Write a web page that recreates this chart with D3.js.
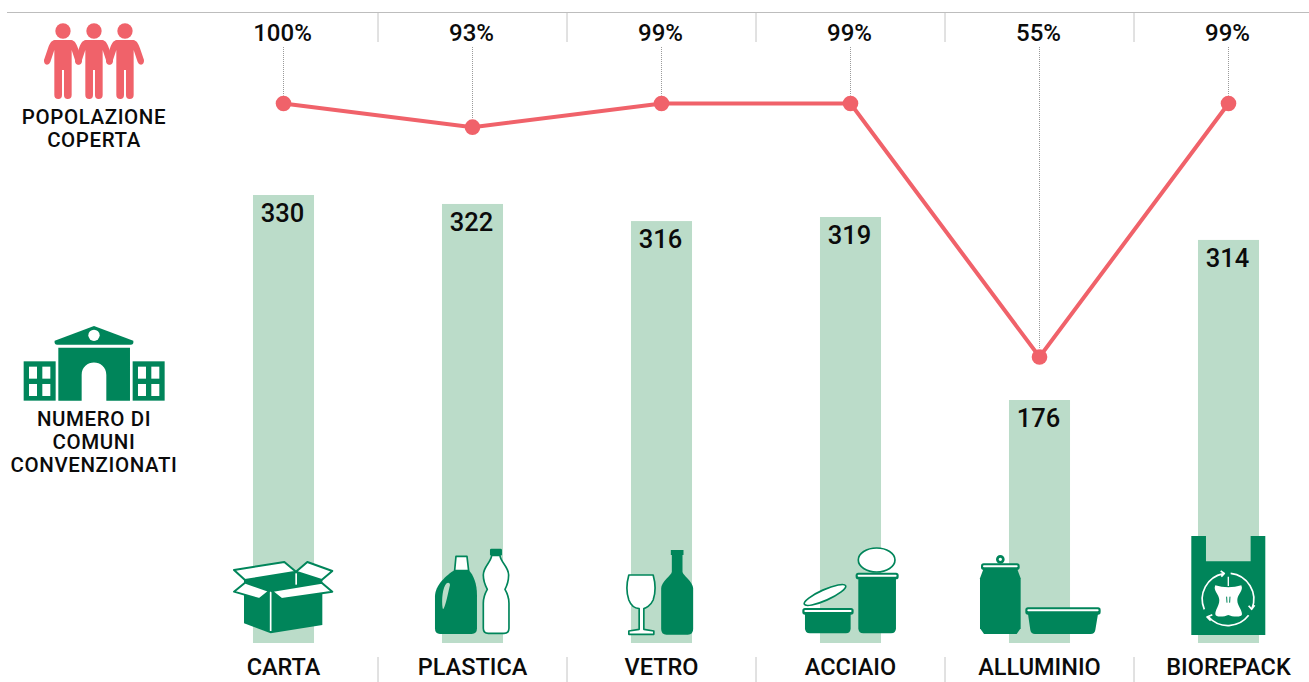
<!DOCTYPE html>
<html>
<head>
<meta charset="utf-8">
<title>Raccolta differenziata</title>
<script src="https://cdn.jsdelivr.net/npm/d3@7"></script>
<style>
  body { margin: 0; background: #fff; }
  svg { display: block; }
  text { font-family: Roboto, sans-serif; font-weight: 500; fill: #0b0b0b; }
</style>
</head>
<body>
<svg id="chart"></svg>
<script>
// The data
var categories = ['CARTA', 'PLASTICA', 'VETRO', 'ACCIAIO', 'ALLUMINIO', 'BIOREPACK'];
var comuni = [330, 322, 316, 319, 176, 314];
var copertura = [100, 93, 99, 99, 55, 99];

// The printed marks don't sit exactly where their labels say,
// so these are the levels (bar heights / line points)
var barLevels = [330, 323.4, 310.8, 313.8, 179, 296.9];
var lineLevels = [100, 95.8, 100, 100, 55, 100];

// General vars
var width = 1309,
    height = 682,
    green = '#00855a',
    lightGreen = '#bbdcc9',
    red = '#f0626a',
    rule = '#c4c4c4';

var svg = d3.select('svg#chart')
  .attr('width', width)
  .attr('height', height)
  .attr('viewBox', '0,0,' + width + ',' + height);

// Scales
var x = d3.scaleBand()
  .domain(categories)
  .range([189, 1323])
  .paddingInner(0.677)
  .paddingOuter(0.3385);

var y = d3.scaleLinear().domain([0, 330]).range([643, 195]);
var yLine = d3.scaleLinear().domain([55, 100]).range([357, 103.5]);

function cx(d) { return x(d) + x.bandwidth() / 2; }

// Top rule and the little separators
svg.append('line')
  .attr('x1', 7).attr('x2', width)
  .attr('y1', 12.5).attr('y2', 12.5)
  .attr('stroke', '#bdbdbd')
  .attr('stroke-width', 1);

var seps = svg.append('g').selectAll('g')
  .data(categories.slice(1))
  .enter().append('g')
    .attr('transform', function(d) { return 'translate(' + (x(d) - x.step() * x.paddingInner() / 2) + ',0)'; });
seps.append('line').attr('y1', 13).attr('y2', 42).attr('stroke', rule);
seps.append('line').attr('y1', 657).attr('y2', 682).attr('stroke', rule);

// Bars
svg.append('g').selectAll('rect')
  .data(categories)
  .enter().append('rect')
    .attr('x', function(d) { return x(d); })
    .attr('width', x.bandwidth())
    .attr('y', function(d, i) { return y(barLevels[i]); })
    .attr('height', function(d, i) { return y(0) - y(barLevels[i]); })
    .attr('fill', lightGreen);

// Bar value labels
svg.append('g').selectAll('text')
  .data(categories)
  .enter().append('text')
    .attr('x', function(d) { return cx(d) - 1; })
    .attr('y', function(d, i) { return y(barLevels[i]) + 27; })
    .attr('text-anchor', 'middle')
    .style('font-size', '25.5px')
    .text(function(d, i) { return comuni[i]; });

// Dotted leaders from the percentages down to the line
svg.append('g').selectAll('line')
  .data(categories)
  .enter().append('line')
    .attr('x1', cx).attr('x2', cx)
    .attr('y1', 47)
    .attr('y2', function(d, i) { return yLine(lineLevels[i]) - 8; })
    .attr('stroke', '#9a9a9a')
    .attr('stroke-dasharray', '1,1');

// Percent labels
svg.append('g').selectAll('text')
  .data(categories)
  .enter().append('text')
    .attr('x', function(d) { return cx(d) - 1; })
    .attr('y', 41)
    .attr('text-anchor', 'middle')
    .style('font-size', '24px')
    .text(function(d, i) { return copertura[i] + '%'; });

// The red line
var line = d3.line()
  .x(function(d) { return cx(d); })
  .y(function(d) { return yLine(lineLevels[categories.indexOf(d)]); });

svg.append('path')
  .datum(categories)
  .attr('d', line)
  .attr('fill', 'none')
  .attr('stroke', red)
  .attr('stroke-width', 4);

svg.append('g').selectAll('circle')
  .data(categories)
  .enter().append('circle')
    .attr('cx', cx)
    .attr('cy', function(d, i) { return yLine(lineLevels[i]); })
    .attr('r', 7.8)
    .attr('fill', red);

// Category labels
var axis = svg.append('g')
  .attr('transform', 'translate(0,643)')
  .call(d3.axisBottom(x).tickSize(0).tickPadding(15));
axis.select('.domain').remove();
axis.selectAll('text')
  .attr('fill', null)
  .style('font-family', 'Roboto, sans-serif')
  .style('font-size', '23.5px')
  .style('font-weight', 500);

///////////
// ICONS
///////////
// Drawn at 3x, so they get scaled down when placed
function icon(dx, dy) {
  return svg.append('g').attr('transform', 'translate(' + dx + ',' + dy + ') scale(0.3333)');
}
function shape(g, d, fill, stroke, sw) {
  return g.append('path').attr('d', d).attr('fill', fill || green)
    .attr('stroke', stroke || 'none').attr('stroke-width', sw || 0).attr('stroke-linejoin', 'round');
}
function rimmed(g, rx, ry, w, h) {
  g.append('rect').attr('x', rx).attr('y', ry).attr('width', w).attr('height', h).attr('rx', 8).attr('fill', green);
  g.append('rect').attr('x', rx + 6).attr('y', ry + 6).attr('width', w - 12).attr('height', 6).attr('rx', 3).attr('fill', '#fff');
}

// Carta: the box
var carta = icon(cx('CARTA') - 63.5, y(0) - 113);
shape(carta, 'M72 165L72 280L152 310L307 285L307 150L228 124L72 150Z');
carta.append('rect').attr('x', 149.5).attr('y', 185).attr('width', 5).attr('height', 118).attr('fill', '#fff');
carta.append('rect').attr('x', 226).attr('y', 130).attr('width', 5).attr('height', 34).attr('fill', '#fff');
shape(carta, 'M42 120L193 96L228 125L75 150Z', '#fff', green, 6);
shape(carta, 'M228 125L262 96L337 123L305 150Z', '#fff', green, 6);
shape(carta, 'M42 185L75 158L148 183L118 207Z', '#fff', green, 6);
shape(carta, 'M155 183L305 158L337 185L185 207Z', '#fff', green, 6);

// Plastica: jug and bottle
var plastica = icon(cx('PLASTICA') - 252.5, y(0) - 113);
shape(plastica, 'M708 79L741 79L746 122L704 122Z', '#fff', green, 5);
shape(plastica, 'M704 120L746 120C760 135 771 160 771 195L771 295Q771 312 755 312L660 312Q645 312 645 295L645 200C645 165 680 135 704 120Z');
shape(plastica, 'M680 160C668 170 664 210 668 235C672 245 680 210 690 165C690 158 684 156 680 160Z', lightGreen);
shape(plastica, 'M815 76L840 76C840 95 866 110 866 135C866 155 862 165 855 178C862 190 867 200 867 220L867 295Q867 310 852 310L805 310Q790 310 790 295L790 220C790 200 795 190 802 178C795 165 790 155 790 135C790 110 815 95 815 76Z', '#fff', green, 5);
shape(plastica, 'M810 60Q810 56 814 56L842 56Q846 56 846 60L846 76L810 76Z');

// Vetro: glass and bottle
var vetro = icon(cx('VETRO') - 51, y(0) - 113);
shape(vetro, 'M55 135L128 135C135 160 135 190 128 210C120 228 105 235 100 236L100 298L130 303L130 313L55 313L55 303L86 298L86 236C75 235 62 228 55 210C48 190 48 160 55 135Z', '#fff', green, 5);
shape(vetro, 'M181 60L219 60L219 75L216 75L216 125C216 135 248 155 248 175L248 297Q248 314 232 314L168 314Q152 314 152 297L152 175C152 155 184 135 184 125L184 75L181 75Z');

// Acciaio: two tins with their lids
var acciaio = icon(cx('ACCIAIO') - 240.5, y(0) - 113);
acciaio.append('ellipse').attr('cx', 645).attr('cy', 195).attr('rx', 68).attr('ry', 16)
  .attr('transform', 'rotate(-24 645 195)').attr('fill', '#fff').attr('stroke', green).attr('stroke-width', 5);
rimmed(acciaio, 577, 234, 154, 20);
shape(acciaio, 'M585 252L722 252L722 295Q722 310 708 310L600 310Q585 310 585 295Z');
acciaio.append('ellipse').attr('cx', 800).attr('cy', 90).attr('rx', 55).attr('ry', 36)
  .attr('fill', '#fff').attr('stroke', green).attr('stroke-width', 5);
rimmed(acciaio, 737, 128, 129, 20);
shape(acciaio, 'M745 146L858 146L858 295Q858 310 843 310L760 310Q745 310 745 295Z');

// Alluminio: can and tray
var alluminio = icon(cx('ALLUMINIO') - 79.5, y(0) - 123);
alluminio.append('circle').attr('cx', 121).attr('cy', 118).attr('r', 9).attr('fill', '#fff').attr('stroke', green).attr('stroke-width', 8);
rimmed(alluminio, 63, 130, 116, 20);
shape(alluminio, 'M70 148L172 148L182 175L182 325L170 342L72 342L60 325L60 175Z');
rimmed(alluminio, 196, 262, 226, 22);
shape(alluminio, 'M204 282L414 282L406 330Q404 342 392 342L225 342Q213 342 211 330Z');

// Biorepack: the bag with the apple core
var bio = icon(cx('BIOREPACK') - 268.5, y(0) - 123);
shape(bio, 'M694 48L738 48L738 124L872 124L872 48L916 48L916 345L694 345Z');
var arrows = 'M733 268A78 78 0 0 1 790 161M782 153L793 160L784 170'
  + 'M812 160A78 78 0 0 1 876 266M866 257L875 268L884 256'
  + 'M866 286A78 78 0 0 1 746 291M757 284L741 291L752 302';
shape(bio, arrows, 'none', '#fff', 5);
shape(bio, 'M766 196C790 204 820 204 844 196C852 212 832 224 832 240C832 258 846 268 846 282C846 294 815 290 805 285C795 290 766 294 766 282C766 268 778 258 778 240C778 224 758 212 766 196Z', '#fff');
shape(bio, 'M805 170L805 198', 'none', '#fff', 4);
shape(bio, 'M800 230L801 248M810 230L809 248', 'none', green, 3);

// Popolazione coperta: three people
var persona = 'M-25 120L25 120C35 122 40 130 45 145L57 180Q58 192 48 194Q41 194 38 186L26 150L26 285Q26 297 14 297Q3 297 3 285L3 210L-3 210L-3 285Q-3 297 -14 297Q-26 297 -26 285L-26 150L-38 186Q-41 194 -48 194Q-58 192 -57 180L-45 145C-40 130 -35 122 -25 120Z';
var people = icon(0, 0);
[189, 282, 375].forEach(function(px) {
  var p = people.append('g').attr('transform', 'translate(' + px + ',0)');
  p.append('circle').attr('cy', 93).attr('r', 23).attr('fill', red);
  shape(p, persona, red);
});

// Numero di comuni: town hall
var hall = icon(0, 310);
shape(hall, 'M282 48L400 92Q402 104 392 104L172 104Q162 104 164 92Z');
hall.append('circle').attr('cx', 282).attr('cy', 76).attr('r', 17).attr('fill', '#fff');
shape(hall, 'M175 113L390 113L390 272L319 272L319 195C319 145 245 145 245 195L245 272L175 272Z');
[71, 398].forEach(function(wx) {
  hall.append('rect').attr('x', wx).attr('y', 154).attr('width', 96).attr('height', 118).attr('fill', green);
  [16, 56].forEach(function(ox) {
    [16, 68].forEach(function(oy) {
      hall.append('rect').attr('x', wx + ox).attr('y', 154 + oy).attr('width', 24).attr('height', 36).attr('fill', '#fff');
    });
  });
});

// Left hand titles
function title(lines, baselines) {
  svg.append('g').selectAll('text')
    .data(lines)
    .enter().append('text')
      .attr('x', 94)
      .attr('y', function(d, i) { return baselines[i]; })
      .attr('text-anchor', 'middle')
      .style('font-size', '20.5px')
      .style('letter-spacing', '0.6px')
      .text(function(d) { return d; });
}
title(['POPOLAZIONE', 'COPERTA'], [124, 147]);
title(['NUMERO DI', 'COMUNI', 'CONVENZIONATI'], [426, 449, 472]);
</script>
</body>
</html>
